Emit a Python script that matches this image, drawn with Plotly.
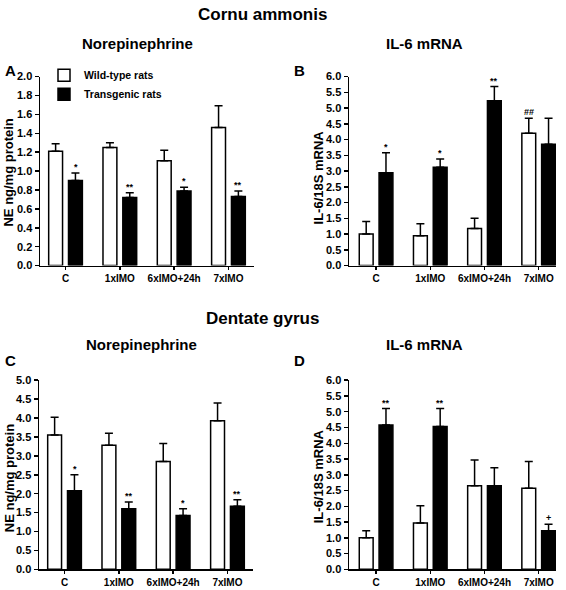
import plotly.graph_objects as go

categories = ["C", "1xIMO", "6xIMO+24h", "7xIMO"]
series_names = ["Wild-type rats", "Transgenic rats"]

# Panel A: Cornu ammonis, Norepinephrine (NE ng/mg protein)
a_wild = [1.21, 1.25, 1.11, 1.46]
a_wild_err = [0.08, 0.05, 0.11, 0.23]
a_tg = [0.90, 0.72, 0.79, 0.73]
a_tg_err = [0.08, 0.05, 0.04, 0.06]
a_tg_sig = ["*", "**", "*", "**"]
a_wild_sig = ["", "", "", ""]

# Panel B: Cornu ammonis, IL-6 mRNA (IL-6/18S mRNA)
b_wild = [1.00, 0.95, 1.18, 4.20]
b_wild_err = [0.40, 0.38, 0.32, 0.48]
b_tg = [2.95, 3.12, 5.23, 3.85]
b_tg_err = [0.63, 0.26, 0.45, 0.83]
b_tg_sig = ["*", "*", "**", ""]
b_wild_sig = ["", "", "", "##"]

# Panel C: Dentate gyrus, Norepinephrine
c_wild = [3.55, 3.28, 2.85, 3.93]
c_wild_err = [0.47, 0.32, 0.48, 0.47]
c_tg = [2.08, 1.60, 1.42, 1.67]
c_tg_err = [0.42, 0.18, 0.18, 0.17]
c_tg_sig = ["*", "**", "*", "**"]
c_wild_sig = ["", "", "", ""]

# Panel D: Dentate gyrus, IL-6 mRNA
d_wild = [1.00, 1.47, 2.65, 2.57]
d_wild_err = [0.22, 0.55, 0.82, 0.85]
d_tg = [4.58, 4.53, 2.65, 1.22]
d_tg_err = [0.52, 0.57, 0.57, 0.21]
d_tg_sig = ["**", "**", "", "+"]
d_wild_sig = ["", "", "", ""]

FONT = "Liberation Sans, Arial, sans-serif"
W, H = 566, 590

panels = [
    dict(key="A", ax="", wild=a_wild, we=a_wild_err, tg=a_tg, te=a_tg_err, ts=a_tg_sig, ws=a_wild_sig,
         yrange=[0, 2.0], dtick=0.2, ytitle="NE ng/mg protein", title="Norepinephrine",
         px=(40, 254), py=(72, 265), xr=[-0.47, 3.47], titlex=137, titley=38, letx=3, lety=66, ytx=9, yty=170),
    dict(key="B", ax="2", wild=b_wild, we=b_wild_err, tg=b_tg, te=b_tg_err, ts=b_tg_sig, ws=b_wild_sig,
         yrange=[0, 6.0], dtick=0.5, ytitle="IL-6/18S mRNA", title="IL-6 mRNA",
         px=(349, 556), py=(72, 265), xr=[-0.5, 3.32], titlex=424, titley=38, letx=292, lety=66, ytx=318, yty=175),
    dict(key="C", ax="3", wild=c_wild, we=c_wild_err, tg=c_tg, te=c_tg_err, ts=c_tg_sig, ws=c_wild_sig,
         yrange=[0, 5.0], dtick=0.5, ytitle="NE ng/mg protein", title="Norepinephrine",
         px=(39, 253), py=(382, 575), xr=[-0.47, 3.47], titlex=141, titley=346, letx=3, lety=362, ytx=9, yty=482),
    dict(key="D", ax="4", wild=d_wild, we=d_wild_err, tg=d_tg, te=d_tg_err, ts=d_tg_sig, ws=d_wild_sig,
         yrange=[0, 6.0], dtick=0.5, ytitle="IL-6/18S mRNA", title="IL-6 mRNA",
         px=(349, 556), py=(382, 575), xr=[-0.5, 3.32], titlex=424, titley=346, letx=292, lety=362, ytx=318, yty=480),
]

fig = go.Figure()
annotations = []

for i, p in enumerate(panels):
    xa = "x" + p["ax"]
    ya = "y" + p["ax"]
    show = (i == 0)
    fig.add_trace(go.Bar(
        x=categories, y=p["wild"], name=series_names[0], xaxis=xa, yaxis=ya,
        marker=dict(color="white", line=dict(color="black", width=1.5)),
        error_y=dict(type="data", array=p["we"], arrayminus=[0] * 4, symmetric=False,
                     color="black", thickness=1.5, width=4),
        showlegend=show, legendgroup="w", offsetgroup="w", hoverinfo="skip",
    ))
    fig.add_trace(go.Bar(
        x=categories, y=p["tg"], name=series_names[1], xaxis=xa, yaxis=ya,
        marker=dict(color="black", line=dict(color="black", width=1.5)),
        error_y=dict(type="data", array=p["te"], arrayminus=[0] * 4, symmetric=False,
                     color="black", thickness=1.5, width=4),
        showlegend=show, legendgroup="t", offsetgroup="t", hoverinfo="skip",
    ))
    x0, x1 = p["px"]
    y0, y1 = p["py"]
    fig.layout["xaxis" + p["ax"]] = dict(
        domain=[x0 / W, x1 / W], anchor=ya, type="category", range=p["xr"],
        showline=True, linecolor="black", linewidth=1.5, ticks="outside", ticklen=3,
        tickwidth=1.5, tickcolor="black", showgrid=False, zeroline=False,
        tickfont=dict(family=FONT, size=10, color="black", weight="bold"),
    )
    fig.layout["yaxis" + p["ax"]] = dict(
        domain=[1 - y1 / H, 1 - y0 / H], anchor=xa, range=p["yrange"], dtick=p["dtick"],
        tickformat=".1f", showline=True, linecolor="black", linewidth=1.5, ticks="outside",
        ticklen=4, tickwidth=1.5, tickcolor="black", showgrid=False, zeroline=False,
        tickfont=dict(family=FONT, size=11, color="black", weight="bold"),
    )
    # significance marks
    for j, cat in enumerate(categories):
        if p["ts"][j]:
            annotations.append(dict(
                x=cat, y=p["tg"][j] + p["te"][j], xref=xa, yref=ya, text=p["ts"][j],
                showarrow=False, xshift=10, yanchor="bottom", yshift=-1,
                font=dict(family=FONT, size=9, color="black", weight="bold")))
        if p["ws"][j]:
            annotations.append(dict(
                x=cat, y=p["wild"][j] + p["we"][j], xref=xa, yref=ya, text=p["ws"][j],
                showarrow=False, xshift=-10, yanchor="bottom", yshift=-1,
                font=dict(family=FONT, size=9, color="black", weight="bold")))
    # panel title
    annotations.append(dict(x=p["titlex"] / W, y=1 - p["titley"] / H, xref="paper", yref="paper",
                            text=p["title"], showarrow=False, xanchor="center", yanchor="middle",
                            font=dict(family=FONT, size=15, color="black", weight="bold")))
    # panel letter
    annotations.append(dict(x=p["letx"] / W, y=1 - p["lety"] / H, xref="paper", yref="paper",
                            text=p["key"], showarrow=False, xanchor="left", yanchor="middle",
                            font=dict(family=FONT, size=15, color="black", weight="bold")))
    # y-axis title
    annotations.append(dict(x=p["ytx"] / W, y=1 - p["yty"] / H, xref="paper", yref="paper",
                            text=p["ytitle"], showarrow=False, xanchor="center", yanchor="middle",
                            textangle=-90,
                            font=dict(family=FONT, size=13, color="black", weight="bold")))

annotations.append(dict(x=262 / W, y=1 - 9 / H, xref="paper", yref="paper", text="Cornu ammonis",
                        showarrow=False, xanchor="center", yanchor="middle",
                        font=dict(family=FONT, size=17, color="black", weight="bold")))
annotations.append(dict(x=262 / W, y=1 - 319 / H, xref="paper", yref="paper", text="Dentate gyrus",
                        showarrow=False, xanchor="center", yanchor="middle",
                        font=dict(family=FONT, size=17, color="black", weight="bold")))

fig.update_layout(
    width=W, height=H, margin=dict(l=0, r=0, t=0, b=0),
    paper_bgcolor="white", plot_bgcolor="white",
    barmode="group", bargap=0.27, bargroupgap=0.3,
    annotations=annotations,
    showlegend=True,
    legend=dict(x=44 / W, y=1 - 56 / H, xanchor="left", yanchor="top",
                bgcolor="rgba(0,0,0,0)", tracegroupgap=0, itemwidth=30,
                font=dict(family=FONT, size=10.5, color="black", weight="bold")),
    font=dict(family=FONT, color="black"),
    hovermode=False,
)

fig.write_html(
    "out.html",
    config={"displayModeBar": False, "staticPlot": True},
    post_script="document.body.style.margin='0';document.body.style.overflow='hidden';",
)
